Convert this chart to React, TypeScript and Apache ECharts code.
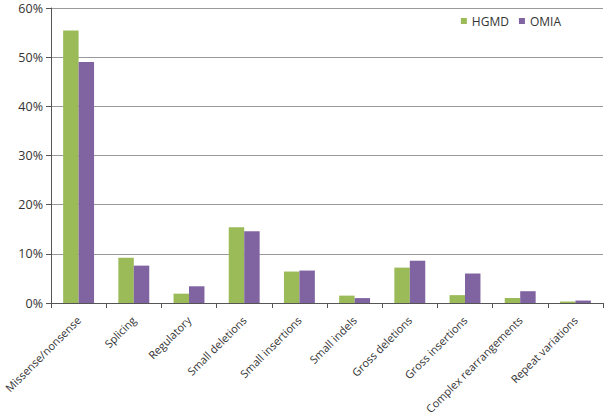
import React, { useEffect, useRef } from "react";
import * as echarts from "echarts";

const categories = [
  "Missense/nonsense",
  "Splicing",
  "Regulatory",
  "Small deletions",
  "Small insertions",
  "Small indels",
  "Gross deletions",
  "Gross insertions",
  "Complex rearrangements",
  "Repeat variations",
];
const hgmd = [55.4, 9.2, 1.9, 15.4, 6.4, 1.5, 7.2, 1.6, 1.0, 0.3];
const omia = [49.0, 7.6, 3.4, 14.6, 6.6, 1.0, 8.6, 6.0, 2.4, 0.5];
const yTicks = [0, 10, 20, 30, 40, 50, 60];

export default function App() {
  const ref = useRef<HTMLDivElement>(null);
  useEffect(() => {
    if (!ref.current) return;
    const chart = echarts.init(ref.current, undefined, { renderer: "svg" });
    const font = "'Open Sans', 'Liberation Sans', sans-serif";
    chart.setOption({
      animation: false,
      textStyle: { fontFamily: font },
      legend: {
        top: 10,
        right: 40,
        itemWidth: 6,
        itemHeight: 6,
        itemGap: 10,
        icon: "rect",
        textStyle: { fontSize: 12, color: "#333", fontFamily: font },
        data: ["HGMD", "OMIA"],
      },
      grid: {
        left: 51,
        right: 3,
        top: 8,
        bottom: 114,
        containLabel: false,
        outerBoundsMode: "none",
      },
      xAxis: {
        type: "category",
        data: categories,
        axisLine: { lineStyle: { color: "#555" } },
        axisTick: { show: true, alignWithLabel: false, length: 5, lineStyle: { color: "#555" } },
        axisLabel: { rotate: 45, fontSize: 11, color: "#333", interval: 0, margin: 15, fontFamily: font },
      },
      yAxis: {
        type: "value",
        min: 0,
        max: 60,
        interval: 10,
        axisLine: { show: true, lineStyle: { color: "#555" } },
        axisTick: { show: true, length: 5, lineStyle: { color: "#555" } },
        splitLine: { lineStyle: { color: "#999" } },
        axisLabel: {
          fontSize: 12.5,
          color: "#333",
          margin: 8,
          fontFamily: font,
          formatter: (v: number) => (yTicks.includes(v) ? `${v}%` : ""),
        },
      },
      series: [
        {
          name: "HGMD",
          type: "bar",
          data: hgmd,
          barGap: "0%",
          barCategoryGap: "44%",
          itemStyle: { color: "#9bbb59" },
        },
        {
          name: "OMIA",
          type: "bar",
          data: omia,
          itemStyle: { color: "#8064a2" },
        },
      ],
    });
    return () => chart.dispose();
  }, []);
  return (
    <div
      ref={ref}
      style={{ position: "absolute", left: 0, top: 0, width: 606, height: 417 }}
    />
  );
}
